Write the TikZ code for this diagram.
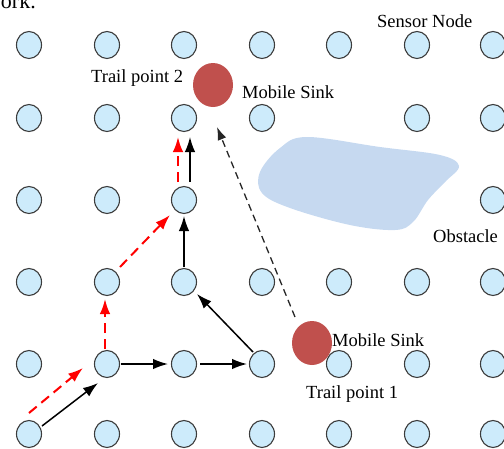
\documentclass[tikz,border=0pt]{standalone}
\usepackage{fontspec}
\setmainfont{Liberation Serif}
\usetikzlibrary{shapes.geometric,arrows.meta,calc}
\definecolor{sensorfill}{HTML}{CDEBFB}
\definecolor{sensorline}{HTML}{3C3C3C}
\definecolor{sinkred}{HTML}{C0504D}
\definecolor{obstfill}{HTML}{C6D9F0}
\definecolor{redarrow}{HTML}{FF0000}
\begin{document}
\begin{tikzpicture}[x=1pt,y=-1pt,
  sensor/.style={ellipse, draw=sensorline, fill=sensorfill, line width=1.1pt,
    minimum width=25pt, minimum height=27pt, inner sep=0pt},
  sink/.style={ellipse, fill=sinkred, minimum width=40pt, minimum height=44pt, inner sep=0pt},
  lbl/.style={anchor=base west, inner sep=0pt, font=\fontsize{18.5}{22}\selectfont},
  blk/.style={draw=black, line width=1.5pt, -{Latex[length=15pt,width=10.5pt]}},
  redd/.style={draw=redarrow, line width=2pt, dash pattern=on 10pt off 6pt, -{Latex[length=15pt,width=10.5pt]}},
  blkd/.style={draw=black!85, line width=1.3pt, dash pattern=on 7pt off 4.5pt, -{Latex[length=13pt,width=9pt]}},
]
\useasboundingbox (0,0) rectangle (504,448);
\clip (0,0) rectangle (504,448);

% obstacle
\fill[obstfill] plot[smooth cycle, tension=0.6] coordinates {
  (307,137) (380,147) (440,155) (459,166) (445,182) (428,200) (413,222)
  (395,230) (350,225) (290,208) (262,193) (260,172) (280,148)};

% sensors
\foreach \c/\x in {0/29,1/107,2/184,3/262,4/339,5/417,6/493}{
  \foreach \r/\y in {1/45,4/282,5/364,6/434}{
    \node[sensor] (n\c\r) at (\x,\y) {};
  }
}
\foreach \c/\x in {0/29,1/107,2/184,3/262,5/417,6/493}{
  \node[sensor] (n\c2) at (\x,118) {};
}
\foreach \c/\x in {0/29,1/107,2/184,6/493}{
  \node[sensor] (n\c3) at (\x,200) {};
}

% mobile sinks
\node[sink] (s1) at (213,85) {};
\node[sink] (s2) at (312,343) {};

% labels
\node[lbl, anchor=base east, font=\fontsize{22}{26}\selectfont] (ork) at (36,8) {ork.};
\node[lbl] (lsensor) at (377,27) {Sensor Node};
\node[lbl] (ltp2) at (91,82) {Trail point 2};
\node[lbl] (lms1) at (242,98) {Mobile Sink};
\node[lbl] (lobs) at (433,242) {Obstacle};
\node[lbl] (lms2) at (332,346) {Mobile Sink};
\node[lbl] (ltp1) at (306,398) {Trail point 1};

% black path
\draw[blk] ($(n06)+(13,-8)$) -- ($(n15)+(-9,19)$);
\draw[blk] ($(n15)+(14,0)$) -- ($(n25)+(-16,0)$);
\draw[blk] ($(n25)+(16,0)$) -- ($(n35)+(-15,0)$);
\draw[blk] ($(n35)+(-9,-12)$) -- ($(n24)+(13,12)$);
\draw[blk] ($(n24)+(0,-15)$) -- ($(n23)+(0,16)$);
\draw[blk] ($(n23)+(6,-18)$) -- ($(n22)+(6,19)$);

% red path
\draw[redd] ($(n06)+(0,-21)$) -- ($(n15)+(-24,4)$);
\draw[redd] ($(n15)+(-2,-15)$) -- ($(n14)+(-2,17)$);
\draw[redd] ($(n14)+(13,-15)$) -- ($(n23)+(-14,15)$);
\draw[redd] ($(n23)+(-6,-18)$) -- ($(n22)+(-6,19)$);

% sink movement
\draw[blkd] ($(s2)+(-17,-26)$) -- ($(s1)+(4,42)$);
\end{tikzpicture}
\end{document}
